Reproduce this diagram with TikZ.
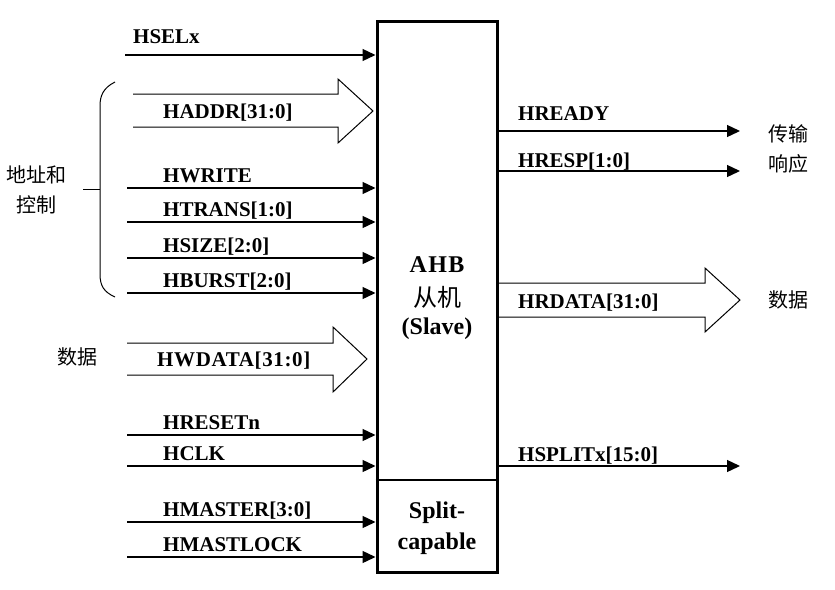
\documentclass[tikz,border=0pt]{standalone}
\usepackage{fontspec}
\setmainfont{Liberation Serif}
\newfontfamily\cjkfont{Noto Sans CJK SC}
\usepackage{tikz}
\usetikzlibrary{positioning, arrows.meta, calc}

\begin{document}
\begin{tikzpicture}[x=1pt, y=-1pt,
    sig/.style={line width=1.3pt, -{Triangle[length=13pt,width=12pt]}},
    bus/.style={line width=1pt, line join=miter},
    lbl/.style={font=\fontsize{21}{24}\selectfont\bfseries, anchor=base west, inner sep=0pt},
    boxtxt/.style={font=\fontsize{24}{32}\selectfont\bfseries, align=center, inner sep=0pt},
    cjk/.style={font=\fontsize{20}{30}\selectfont\cjkfont, align=center, inner sep=0pt}]
  \useasboundingbox (0,0) rectangle (835,589);

  % slave block
  \node[draw, line width=3pt, minimum width=120pt, minimum height=551pt, inner sep=0pt]
    (slave) at (437,296.5) {};
  \coordinate (div) at (437,480);
  \draw[line width=2pt] (div -| slave.west) -- (div -| slave.east);
  \node[boxtxt] (ahb) at (437,265) {\addfontfeature{LetterSpace=6}AHB};
  \node[cjk, font=\fontsize{24}{30}\selectfont\cjkfont] (cong) at (437,297) {从机};
  \node[boxtxt] (slv) at (437,329) {(Slave)};
  \node[boxtxt] (splt) at (437,528) {Split-\\[-1pt]capable};

  % inputs
  \coordinate (sel) at (125,55);
  \draw[sig] (sel) -- (sel -| slave.west);
  \node[lbl] (sel-lbl) at (133,43) {HSELx};
  \foreach \y/\nm/\txt in {188/write/HWRITE, 222/trans/HTRANS[1:0], 258/size/HSIZE[2:0],
      293/burst/HBURST[2:0], 435/reset/HRESETn, 466/clk/HCLK,
      522/master/HMASTER[3:0], 557/lock/HMASTLOCK}{
    \coordinate (\nm) at (127,\y);
    \draw[sig] (\nm) -- (\nm -| slave.west);
    \node[lbl] (\nm-lbl) at (163,\y-6) {\txt};
  }

  % address bus
  \coordinate (addr) at (133,94);
  \draw[bus] (addr) -- (338,94) -- (338,79) -- (373,111) -- (338,143) -- (338,127) -- (133,127);
  \node[lbl] (addr-lbl) at (163,118) {HADDR[31:0]};

  % brace
  \coordinate (brace-mid) at (100,189);
  \draw[line width=1pt] (115,82) .. controls (103,88) and (100,96) .. (100,106)
    -- (100,274) .. controls (100,286) and (104,292) .. (115,297);
  \draw[line width=1pt] (brace-mid) -- ++(-17,0);
  \node[cjk] (ctrl) at (36,190) {地址和\\控制};

  % write data
  \coordinate (wdata) at (127,343);
  \draw[bus] (wdata) -- (333,343) -- (333,327) -- (367,359) -- (333,392) -- (333,375) -- (127,375);
  \node[lbl] (wdata-lbl) at (157,366) {\addfontfeature{LetterSpace=3}HWDATA[31:0]};
  \node[cjk] (wd) at (77,357) {数据};

  % outputs
  \foreach \y/\nm/\txt/\dy in {131/ready/HREADY/11, 171/resp/HRESP[1:0]/4,
      466/split/HSPLITx[15:0]/5}{
    \coordinate (\nm) at (740,\y);
    \draw[sig] (\nm -| slave.east) -- (\nm);
    \node[lbl] (\nm-lbl) at (518,\y-\dy) {\txt};
  }
  \node[cjk] (rsp) at (788,149) {传输\\响应};

  % read data
  \coordinate (rdata) at (498,283);
  \draw[bus] (rdata) -- (705,283) -- (705,268) -- (740,300) -- (705,332) -- (705,317) -- (498,317);
  \node[lbl] (rdata-lbl) at (518,308) {HRDATA[31:0]};
  \node[cjk] (rd) at (788,300) {数据};
\end{tikzpicture}
\end{document}
